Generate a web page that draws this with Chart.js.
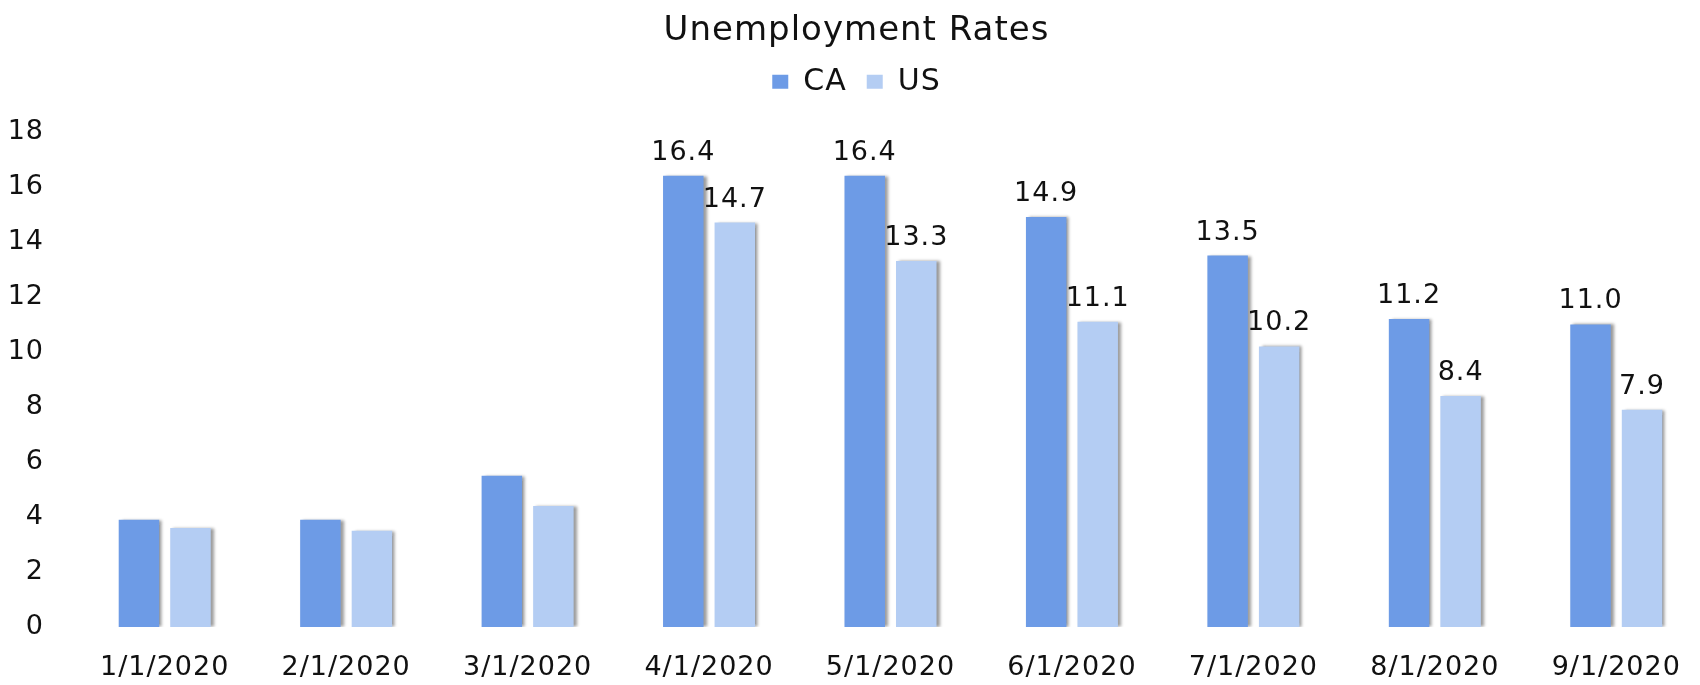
<!DOCTYPE html>
<html>
<head>
<meta charset="utf-8">
<title>Unemployment Rates</title>
<script src="https://cdn.jsdelivr.net/npm/chart.js@4.4.1/dist/chart.umd.min.js"></script>
<style>
  html, body { margin: 0; padding: 0; background: #fff; overflow: hidden; }
  #wrap { width: 1726px; height: 685px; }
</style>
</head>
<body>
<div id="wrap"><canvas id="rates" width="1726" height="685"></canvas></div>
<script>
// Monthly unemployment rate (%), California vs. United States
const months = ['1/1/2020', '2/1/2020', '3/1/2020', '4/1/2020', '5/1/2020',
                '6/1/2020', '7/1/2020', '8/1/2020', '9/1/2020'];
const caRates = [3.9, 3.9, 5.5, 16.4, 16.4, 14.9, 13.5, 11.2, 11.0];
const usRates = [3.6, 3.5, 4.4, 14.7, 13.3, 11.1, 10.2, 8.4, 7.9];
// only the months from April on carry a value label
const showValue = [false, false, false, true, true, true, true, true, true];

const FONT = "'DejaVu Sans', sans-serif";
const TEXT = '#111';
const LEGEND_GAP = 25;

// a touch of tracking on all canvas text
const textSpacing = {
  id: 'textSpacing',
  beforeLayout(chart) { chart.ctx.letterSpacing = '1px'; },
  beforeDraw(chart) { chart.ctx.letterSpacing = '1px'; }
};

// extra room between the legend and the plot
const legendGap = {
  id: 'legendGap',
  beforeInit(chart) {
    const fit = chart.legend.fit;
    chart.legend.fit = function () {
      fit.call(this);
      this.height += LEGEND_GAP;
    };
  }
};

// soft grey shadow to the right of each bar
const barShadow = {
  id: 'barShadow',
  beforeDatasetsDraw(chart) {
    const c = chart.ctx;
    c.save();
    c.shadowColor = 'rgba(0, 0, 0, 0.4)';
    c.shadowBlur = 3;
    c.shadowOffsetX = 3;
    c.shadowOffsetY = 0;
  },
  afterDatasetsDraw(chart) {
    chart.ctx.restore();
  }
};

// value printed above each bar
const barValues = {
  id: 'barValues',
  afterDatasetsDraw(chart) {
    const c = chart.ctx;
    c.save();
    c.font = `27px ${FONT}`;
    c.fillStyle = TEXT;
    c.textAlign = 'center';
    c.textBaseline = 'alphabetic';
    chart.data.datasets.forEach((ds, i) => {
      chart.getDatasetMeta(i).data.forEach((bar, j) => {
        if (!showValue[j]) return;
        c.fillText(ds.data[j].toFixed(1), bar.x, bar.y - 16);
      });
    });
    c.restore();
  }
};

const ctx = document.getElementById('rates').getContext('2d');
new Chart(ctx, {
  type: 'bar',
  data: {
    labels: months,
    datasets: [
      { label: 'CA', data: caRates, backgroundColor: '#6D9BE6' },
      { label: 'US', data: usRates, backgroundColor: '#B4CDF3' }
    ]
  },
  options: {
    responsive: false,
    animation: false,
    layout: { padding: { left: 6, right: 19, top: 0, bottom: 0 } },
    datasets: {
      bar: { categoryPercentage: 0.568, barPercentage: 0.786 }
    },
    plugins: {
      title: {
        display: true,
        text: 'Unemployment Rates',
        color: TEXT,
        font: { family: FONT, size: 34, weight: 'normal' },
        padding: { top: 11, bottom: -5 }
      },
      legend: {
        labels: {
          color: TEXT,
          font: { family: FONT, size: 30 },
          boxWidth: 16,
          boxHeight: 14,
          padding: 20
        }
      },
      tooltip: { enabled: false }
    },
    scales: {
      x: {
        grid: { display: false, drawTicks: false },
        border: { display: false },
        ticks: {
          color: TEXT,
          font: { family: FONT, size: 27 },
          padding: 25,
          maxRotation: 0
        },
        afterFit(scale) { scale.height = 58; }
      },
      y: {
        min: 0,
        max: 18,
        grid: { display: false, drawTicks: false },
        border: { display: false },
        ticks: {
          stepSize: 2,
          color: TEXT,
          font: { family: FONT, size: 27 },
          padding: 30
        },
        afterFit(scale) { scale.width = 68; }
      }
    }
  },
  plugins: [textSpacing, legendGap, barShadow, barValues]
});
</script>
</body>
</html>
